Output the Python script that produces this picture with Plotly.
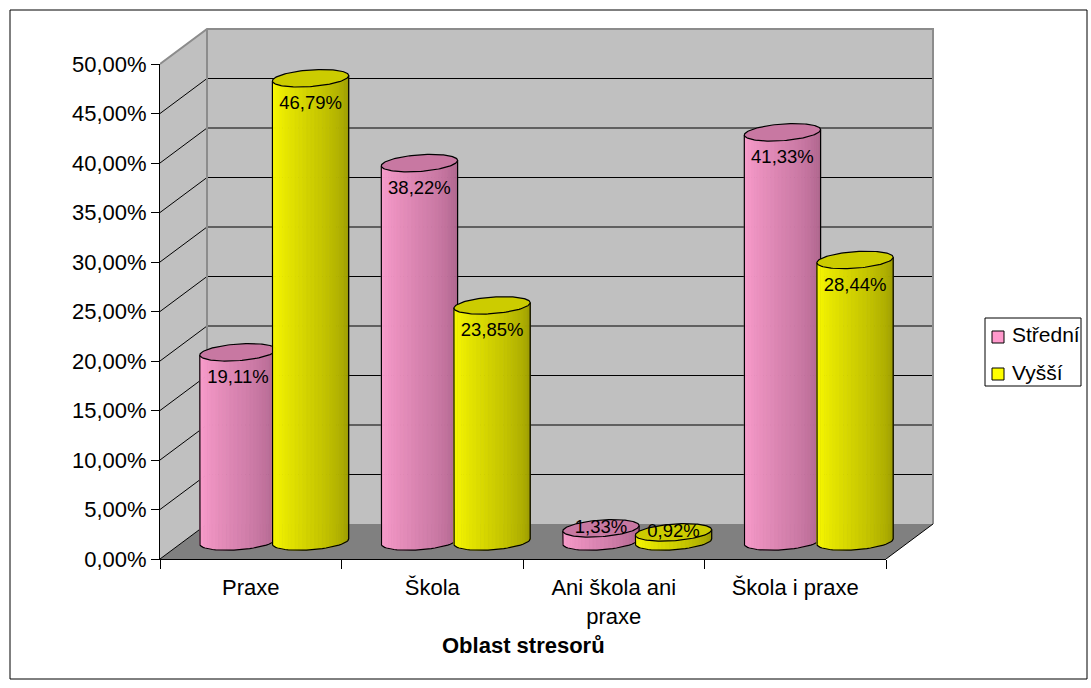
import numpy as np
import plotly.graph_objects as go

# ---- data -------------------------------------------------------------
categories = ["Praxe", "Škola", "Ani škola ani<br>praxe", "Škola i praxe"]
series_names = ["Střední", "Vyšší"]
stredni = [19.11, 38.22, 1.33, 41.33]
vyssi = [46.79, 23.85, 0.92, 28.44]
y_ticks = [0, 5, 10, 15, 20, 25, 30, 35, 40, 45, 50]
y_tick_labels = ["0,00%", "5,00%", "10,00%", "15,00%", "20,00%", "25,00%",
                 "30,00%", "35,00%", "40,00%", "45,00%", "50,00%"]
axis_title = "Oblast stresorů"

# ---- styling ------------------------------------------------------------
FONT = "Liberation Sans, Arial, sans-serif"
BODY_LEFT = [(255, 160, 208), (255, 255, 0)]
BODY_RIGHT = [(168, 96, 136), (150, 150, 0)]
TOP_COLOR = ["rgb(200,120,162)", "rgb(204,204,0)"]
LEGEND_COLOR = ["rgb(255,153,204)", "rgb(255,255,0)"]
WALL = "#c0c0c0"
FLOOR = "#808080"
EDGE = "#8c8c8c"

# ---- frame geometry (pixels) --------------------------------------------
W, H = 1091, 688
FRONT_W, FRONT_H = 726, 495          # front plane: 4 categories x 0..50 %
DX_PX, DY_PX = 47, 35                # oblique depth offset
PAD = 3
plot_left, plot_bottom = 160, 559
plot_right = plot_left + FRONT_W + DX_PX + PAD
plot_top = plot_bottom - FRONT_H - DY_PX - PAD
plot_w = plot_right - plot_left
plot_h = plot_bottom - plot_top

n_cat = len(categories)
ymax = y_ticks[-1]
px_x = FRONT_W / n_cat               # pixels per category
px_y = FRONT_H / ymax                # pixels per percent
DXU = DX_PX / px_x                   # depth offset in axis units
DYU = DY_PX / px_y

x_range = [-0.5, -0.5 + plot_w / px_x]
y_range = [0, plot_h / px_y]

def paper_x(px):
    return (px - plot_left) / plot_w

def paper_y(py):
    return (plot_bottom - py) / plot_h

# cylinder shape in axis units
RX = 0.2          # half width of a cylinder (categories)
RD = 0.25         # depth radius as fraction of the full depth
OFFSETS = [-0.2, 0.2]
MID = 0.5         # cylinders stand halfway into the depth
N_STRIPS = 30

A = RD * DXU
THETA0 = np.arctan2(A, RX)

def ellipse(cx, cy, theta):
    x = cx + RX * np.cos(theta) + A * np.sin(theta)
    y = cy + RD * DYU * np.sin(theta)
    return x, y

fig = go.Figure()

def add_poly(xs, ys, fill, line_color=None, width=0):
    fig.add_trace(go.Scatter(
        x=xs, y=ys, mode="lines", fill="toself", fillcolor=fill,
        line=dict(color=line_color or fill, width=width),
        hoverinfo="skip", showlegend=False))

def add_lines(xs, ys, color, width=1):
    fig.add_trace(go.Scatter(
        x=xs, y=ys, mode="lines", line=dict(color=color, width=width),
        hoverinfo="skip", showlegend=False))

# ---- walls and floor -------------------------------------------------------
x0, x1 = -0.5, n_cat - 0.5
add_poly([x0, x0 + DXU, x0 + DXU, x0], [0, DYU, ymax + DYU, ymax], WALL)
add_poly([x0 + DXU, x1 + DXU, x1 + DXU, x0 + DXU],
         [DYU, DYU, ymax + DYU, ymax + DYU], WALL)
add_poly([x0, x1, x1 + DXU, x0 + DXU], [0, 0, DYU, DYU], FLOOR)

gx, gy = [], []
for t in y_ticks[:-1]:
    if t > 0:
        gx += [x0 + DXU, x1 + DXU, None]
        gy += [t + DYU, t + DYU, None]
    gx += [x0, x0 + DXU, None]
    gy += [t, t + DYU, None]
add_lines(gx, gy, "black", 1)

add_lines([x0, x0 + DXU, x1 + DXU, x1 + DXU, None, x0 + DXU, x0 + DXU],
          [ymax, ymax + DYU, ymax + DYU, DYU, None, DYU, ymax + DYU], EDGE, 2)
add_lines([x1, x1 + DXU], [0, DYU], "black", 1)

# ---- cylinders ----------------------------------------------------------------
theta_front = np.linspace(THETA0 + np.pi, THETA0 + 2 * np.pi, N_STRIPS + 1)
theta_full = np.linspace(0, 2 * np.pi, 121)

for s, values in enumerate([stredni, vyssi]):
    base_y = MID * DYU
    centers = [i + OFFSETS[s] + MID * DXU for i in range(n_cat)]

    # shaded body, one trace per shade
    for k in range(N_STRIPS):
        t = (k + 0.5) / N_STRIPS
        f = t ** 1.15
        c = tuple(int(round(BODY_LEFT[s][j] + (BODY_RIGHT[s][j] - BODY_LEFT[s][j]) * f))
                  for j in range(3))
        color = "rgb(%d,%d,%d)" % c
        xs, ys = [], []
        for cx, v in zip(centers, values):
            th = theta_front[k:k + 2]
            bx, by = ellipse(cx, base_y, th)
            tx, ty = ellipse(cx, base_y + v, th)
            xs += [bx[0], bx[1], tx[1], tx[0], bx[0], None]
            ys += [by[0], by[1], ty[1], ty[0], by[0], None]
        add_poly(xs, ys, color, color, 0.8)

    # silhouette outline
    ox, oy = [], []
    for cx, v in zip(centers, values):
        bx, by = ellipse(cx, base_y, theta_front)
        tl = ellipse(cx, base_y + v, theta_front[0])
        tr = ellipse(cx, base_y + v, theta_front[-1])
        ox += [tl[0]] + list(bx) + [tr[0], None]
        oy += [tl[1]] + list(by) + [tr[1], None]
    add_lines(ox, oy, "black", 1.2)

    # top caps
    cx_all, cy_all = [], []
    for cx, v in zip(centers, values):
        ex, ey = ellipse(cx, base_y + v, theta_full)
        cx_all += list(ex) + [None]
        cy_all += list(ey) + [None]
    add_poly(cx_all, cy_all, TOP_COLOR[s], "black", 1.2)

# ---- value labels -------------------------------------------------------------
LABEL_DROP = 26 / px_y
lx, ly, lt = [], [], []
for s, values in enumerate([stredni, vyssi]):
    for i, v in enumerate(values):
        lx.append(i + OFFSETS[s] + MID * DXU)
        top = v + MID * DYU
        ly.append(top - LABEL_DROP if v > 2 * LABEL_DROP else top)
        lt.append(("%.2f" % v).replace(".", ",") + "%")
fig.add_trace(go.Scatter(
    x=lx, y=ly, text=lt, mode="text", textposition="middle center",
    textfont=dict(family=FONT, size=18.5, color="black"),
    xaxis="x2", yaxis="y2", cliponaxis=False, hoverinfo="skip", showlegend=False))

# ---- axes --------------------------------------------------------------------------
front_dom_x = [0, FRONT_W / plot_w]
front_dom_y = [0, FRONT_H / plot_h]
fig.update_layout(
    width=W, height=H, autosize=False,
    margin=dict(l=plot_left, r=W - plot_right, t=plot_top, b=H - plot_bottom,
                autoexpand=False),
    paper_bgcolor="white", plot_bgcolor="rgba(0,0,0,0)",
    font=dict(family=FONT, size=22, color="black"),
    showlegend=False,
    xaxis=dict(range=x_range, domain=[0, 1], visible=False, fixedrange=True),
    yaxis=dict(range=y_range, domain=[0, 1], visible=False, fixedrange=True),
    xaxis2=dict(range=[x0, x1], domain=front_dom_x, anchor="y2",
                showline=True, linecolor="black", linewidth=1,
                tickvals=[x0 + i for i in range(n_cat + 1)],
                ticks="outside", ticklen=9, tickcolor="black",
                showticklabels=False, showgrid=False, zeroline=False,
                fixedrange=True),
    xaxis3=dict(range=[x0, x1], domain=front_dom_x, anchor="y2",
                overlaying="x2", side="bottom",
                tickvals=list(range(n_cat)), ticktext=categories,
                ticks="outside", ticklen=9, tickcolor="rgba(0,0,0,0)",
                tickfont=dict(family=FONT, size=22),
                showline=False, showgrid=False, zeroline=False,
                fixedrange=True),
    yaxis2=dict(range=[0, ymax], domain=front_dom_y, anchor="x2",
                showline=True, linecolor="black", linewidth=1,
                tickvals=y_ticks, ticktext=y_tick_labels,
                ticks="outside", ticklen=8, tickcolor="black",
                tickfont=dict(family=FONT, size=22),
                showgrid=False, zeroline=False, fixedrange=True),
)

# category axis needs a trace of its own to be drawn
fig.add_trace(go.Scatter(x=[None], y=[None], xaxis="x3", yaxis="y2",
                         hoverinfo="skip", showlegend=False))

fig.add_annotation(
    text="<b>%s</b>" % axis_title, x=(x0 + x1) / 2, xref="x2",
    y=paper_y(645), yref="paper", showarrow=False,
    font=dict(family=FONT, size=22, color="black"),
    xanchor="center", yanchor="middle")

# ---- legend box -----------------------------------------------------------------------
LEG_L, LEG_R, LEG_T, LEG_B = 985, 1081, 318, 386
ROW_Y = [333, 370]
fig.add_shape(type="rect", xref="paper", yref="paper",
              x0=paper_x(LEG_L), x1=paper_x(LEG_R),
              y0=paper_y(LEG_B), y1=paper_y(LEG_T),
              line=dict(color="black", width=1), fillcolor="white")
for s, name in enumerate(series_names):
    cy = ROW_Y[s] + 4
    fig.add_shape(type="rect", xref="paper", yref="paper",
                  x0=paper_x(992), x1=paper_x(1004),
                  y0=paper_y(cy + 6), y1=paper_y(cy - 6),
                  line=dict(color="black", width=1), fillcolor=LEGEND_COLOR[s])
    fig.add_annotation(text=name, xref="paper", yref="paper",
                       x=paper_x(1010), y=paper_y(ROW_Y[s] + 2),
                       xanchor="left", yanchor="middle", showarrow=False,
                       font=dict(family=FONT, size=21, color="black"))

fig.add_shape(type="rect", xref="paper", yref="paper",
              x0=paper_x(10), x1=paper_x(1087), y0=paper_y(679), y1=paper_y(10),
              line=dict(color="black", width=1), layer="below")

fig.write_html("out.html")
